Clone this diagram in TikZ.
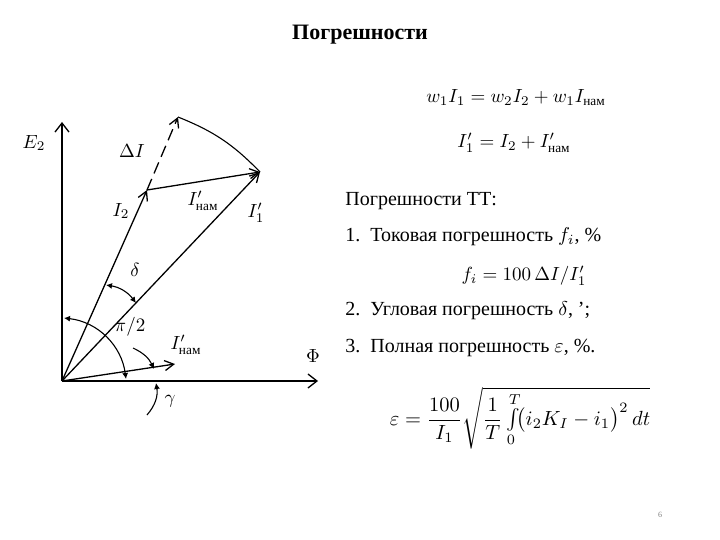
\documentclass[tikz,border=0pt]{standalone}
\usetikzlibrary{arrows.meta}
\usepackage{amsmath}
\usepackage{fontspec}
\setmainfont{Liberation Serif}
\newcommand{\nam}{\text{\rmfamily\upshape нам}}
\begin{document}
\begin{tikzpicture}[x=1pt,y=-1pt,
  vec/.style={line width=1.3pt,-{Straight Barb[length=9pt,width=10pt]}},
  ax/.style={line width=1.3pt,-{Straight Barb[length=9pt,width=14pt]}},
  angarr/.style={line width=1.1pt,-{Latex[length=6pt,width=6pt]}},
  lbl/.style={scale=1.9,inner sep=1pt},
  txt/.style={scale=2,anchor=west,inner sep=0pt}]
\useasboundingbox (0,0) rectangle (720,540);
\node[scale=2.2,font=\bfseries] (title) at (360,35) {Погрешности};
% diagram
\coordinate (O) at (62,381);
\coordinate (E) at (62,122);
\coordinate (F) at (318,381);
\coordinate (A) at (147,190);
\coordinate (B) at (260,172);
\coordinate (C) at (178,117);
\coordinate (M) at (175,364);
\draw[ax] (O) -- (E);
\draw[ax] (O) -- (F);
\draw[vec] (O) -- (A);
\draw[vec] (O) -- (B);
\draw[vec] (A) -- (B);
\draw[vec] (O) -- (M);
\draw[line width=1.3pt,dash pattern=on 12pt off 6pt,-{Straight Barb[length=9pt,width=10pt]}] (A) -- (C);
\draw[line width=1.1pt] (C) to[bend left=12] (B);
% angle arcs
\draw[angarr,{Latex[length=6pt,width=6pt]}-{Latex[length=6pt,width=6pt]}] (106,285) to[bend left=22] (136,303);
\draw[angarr,{Latex[length=6pt,width=6pt]}-{Latex[length=6pt,width=6pt]}] (64,318) to[bend left=38] (126,379);
\draw[angarr] (133,348) to[bend left=20] (154,369);
\draw[angarr] (147,415) to[bend right=25] (156,383);
\node[lbl] (lE) at (34,143) {$E_2$};
\node[lbl] (lF) at (313,356) {$\Phi$};
\node[lbl] (ldI) at (132,151) {$\Delta I$};
\node[lbl] (lI2) at (121,211) {$I_2$};
\node[lbl] (lIn) at (203,201) {$I'_{\nam}$};
\node[lbl] (lI1) at (256,213) {$I'_1$};
\node[lbl] (ld) at (135,270) {$\delta$};
\node[lbl] (lp) at (130,327) {$\pi/2$};
\node[lbl] (lIn2) at (186,345) {$I'_{\nam}$};
\node[lbl] (lg) at (170,401) {$\gamma$};
% formulas
\node[lbl] (f1) at (516,98) {$w_1I_1=w_2I_2+w_1I_{\nam}$};
\node[lbl] (f2) at (514,143) {$I'_1=I_2+I'_{\nam}$};
\node[txt] (t1) at (345,201) {Погрешности ТТ:};
\node[txt] (t2) at (345,237) {1.\ \ Токовая погрешность $f_i$, \%};
\node[lbl] (f3) at (524,276) {$f_i=100\,\Delta I/I'_1$};
\node[txt] (t3) at (345,311) {2.\ \ Угловая погрешность $\delta$, ';};
\node[txt] (t4) at (345,348) {3.\ \ Полная погрешность $\varepsilon$, \%.};
\node[scale=2.05,inner sep=1pt] (f4) at (520,418) {$\varepsilon=\dfrac{100}{I_1}\sqrt{\dfrac{1}{T}\int\limits_0^T\!\bigl(i_2K_I-i_1\bigr)^2\,dt}$};
\node[font=\fontsize{8}{9}\selectfont,text=gray] (pg) at (660,515) {6};
\end{tikzpicture}
\end{document}
